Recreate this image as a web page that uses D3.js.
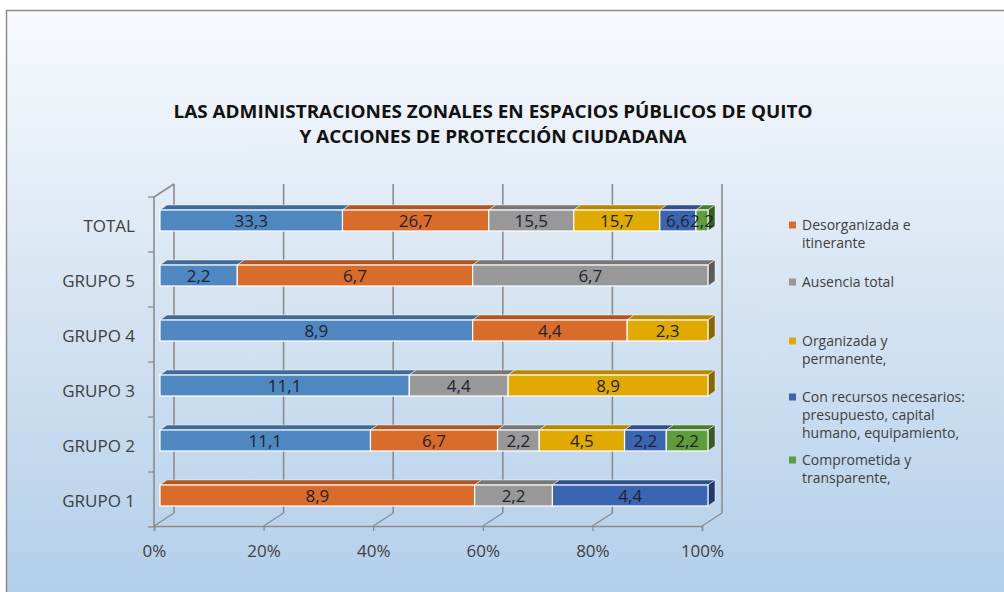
<!DOCTYPE html>
<html>
<head>
<meta charset="utf-8">
<script src="https://cdn.jsdelivr.net/npm/d3@7"></script>
<style>
  body { margin: 0; background: #fff; }
  text { font-family: "Open Sans", sans-serif; }
</style>
</head>
<body>
<div id="chart"></div>
<script>
// categories top to bottom
const categories = ["TOTAL", "GRUPO 5", "GRUPO 4", "GRUPO 3", "GRUPO 2", "GRUPO 1"];

// series values (same order as categories)
const serieA = [33.3, 2.2, 8.9, 11.1, 11.1, 0];          // light blue, no legend entry
const desorganizada = [26.7, 6.7, 4.4, 0, 6.7, 8.9];
const ausencia = [15.5, 6.7, 0, 4.4, 2.2, 2.2];
const organizada = [15.7, 0, 2.3, 8.9, 4.5, 0];
const conRecursos = [6.6, 0, 0, 0, 2.2, 4.4];
const comprometida = [2.2, 0, 0, 0, 2.2, 0];

const seriesKeys = ["a", "b", "c", "d", "e", "f"];
const seriesValues = [serieA, desorganizada, ausencia, organizada, conRecursos, comprometida];

const legendLabels = [
  ["Desorganizada e", "itinerante"],
  ["Ausencia total"],
  ["Organizada y", "permanente,"],
  ["Con recursos necesarios:", "presupuesto, capital", "humano, equipamiento,"],
  ["Comprometida y", "transparente,"]
];

const titleLines = [
  "LAS ADMINISTRACIONES ZONALES EN ESPACIOS PÚBLICOS DE QUITO",
  "Y ACCIONES DE PROTECCIÓN CIUDADANA"
];

const xTicks = [0, 0.2, 0.4, 0.6, 0.8, 1];

// front / top / side colours for each series
const frontColors = ["#4f87c1", "#d96c2b", "#989898", "#e1aa02", "#3c65b1", "#5f9c3c"];
const topColors = ["#3f6b98", "#ae5521", "#777777", "#b48800", "#2f4f8a", "#4a7a2e"];
const sideColors = ["#2f5075", "#84401a", "#5a5a5a", "#886600", "#233b68", "#375c22"];

const svgWidth = 1004;
const svgHeight = 592;

const svg = d3.select("#chart")
  .append("svg")
  .attr("width", svgWidth)
  .attr("height", svgHeight);

// background
const grad = svg.append("defs").append("linearGradient")
  .attr("id", "bg")
  .attr("x1", 0).attr("y1", 0).attr("x2", 0).attr("y2", 1);
grad.append("stop").attr("offset", "0%").attr("stop-color", "#f8fafd");
grad.append("stop").attr("offset", "45%").attr("stop-color", "#d9e6f3");
grad.append("stop").attr("offset", "100%").attr("stop-color", "#b3cfea");

svg.append("rect")
  .attr("x", 6).attr("y", 10)
  .attr("width", svgWidth - 6).attr("height", svgHeight - 10)
  .attr("fill", "url(#bg)");
svg.append("path")
  .attr("d", `M6.5,${svgHeight} V10.5 H${svgWidth}`)
  .attr("fill", "none")
  .attr("stroke", "#8a8a8a")
  .attr("stroke-width", 1.5);

// title
svg.selectAll(".title")
  .data(titleLines)
  .enter()
  .append("text")
  .attr("x", 493)
  .attr("y", (d, i) => 112 + i * 25)
  .attr("dy", "0.35em")
  .attr("text-anchor", "middle")
  .attr("textLength", (d, i) => i === 0 ? 639 : 387)
  .attr("lengthAdjust", "spacingAndGlyphs")
  .style("font-size", "18px")
  .style("font-weight", "bold")
  .style("fill", "#111")
  .text(d => d);

// scales
const depthX = 20, depthY = -13;     // front axis plane -> back wall
const xFront = d3.scaleLinear().domain([0, 1]).range([154, 702]);
const xBar = d3.scaleLinear().domain([0, 1]).range([160, 708]);
const yBand = d3.scaleBand().domain(categories).range([197, 527]);

const gridColor = "#8c8c8c";

// back wall gridlines
svg.selectAll(".grid")
  .data(xTicks)
  .enter()
  .append("line")
  .attr("x1", d => xFront(d) + depthX)
  .attr("x2", d => xFront(d) + depthX)
  .attr("y1", 197 + depthY)
  .attr("y2", 526 + depthY)
  .attr("stroke", gridColor)
  .attr("stroke-width", 1.6);

// floor diagonals
svg.selectAll(".floor")
  .data(xTicks)
  .enter()
  .append("line")
  .attr("x1", d => xFront(d))
  .attr("y1", 526)
  .attr("x2", d => xFront(d) + depthX)
  .attr("y2", 526 + depthY)
  .attr("stroke", gridColor)
  .attr("stroke-width", 1.3);

// left wall
svg.append("path")
  .attr("d", `M${xFront(0)},526 V197 L${xFront(0) + depthX},${197 + depthY}`)
  .attr("fill", "none")
  .attr("stroke", gridColor)
  .attr("stroke-width", 1.6);

// category ticks at band edges
const edges = categories.map(c => yBand(c)).concat([yBand.range()[1]]);
svg.selectAll(".ytick")
  .data(edges)
  .enter()
  .append("line")
  .attr("x1", xFront(0) - 6)
  .attr("x2", xFront(0))
  .attr("y1", d => d)
  .attr("y2", d => d)
  .attr("stroke", gridColor)
  .attr("stroke-width", 1.3);

// bottom axis
const bottomAxis = d3.axisBottom(xFront)
  .tickValues(xTicks)
  .tickFormat(d3.format(".0%"))
  .tickSize(5)
  .tickSizeOuter(5)
  .tickPadding(14);

const axisG = svg.append("g")
  .attr("transform", "translate(0,526)")
  .call(bottomAxis);
axisG.select(".domain").attr("stroke", gridColor).attr("stroke-width", 1.6);
axisG.selectAll(".tick line").attr("stroke", gridColor).attr("stroke-width", 1.3);
axisG.selectAll(".tick text")
  .style("font-size", "17px")
  .style("font-family", "'Open Sans', sans-serif")
  .attr("fill", "#404040");

// category labels
svg.selectAll(".cat")
  .data(categories)
  .enter()
  .append("text")
  .attr("x", 135)
  .attr("y", d => yBand(d) + yBand.bandwidth() / 2 + 2)
  .attr("dy", "0.35em")
  .attr("text-anchor", "end")
  .style("font-size", "17px")
  .style("fill", "#404040")
  .text(d => d);

// stacked data (100%)
const rows = categories.map((c, i) => {
  const row = { cat: c };
  seriesKeys.forEach((k, j) => { row[k] = seriesValues[j][i]; });
  return row;
});
const stacked = d3.stack().keys(seriesKeys).offset(d3.stackOffsetExpand)(rows);

const barH = 21, bdx = 7, bdy = -5;
const fmt = d3.formatLocale({ decimal: ",", thousands: ".", grouping: [3], currency: ["", ""] }).format(".1f");

stacked.forEach((layer, si) => {
  const segs = layer.filter(d => d[1] - d[0] > 0);
  const g = svg.append("g");
  segs.forEach(d => {
    const x0 = xBar(d[0]), x1 = xBar(d[1]);
    const y0 = yBand(d.data.cat) + yBand.bandwidth() / 2 - 4 - barH / 2;
    // top face
    g.append("path")
      .attr("d", `M${x0},${y0} L${x0 + bdx},${y0 + bdy} L${x1 + bdx},${y0 + bdy} L${x1},${y0} Z`)
      .attr("fill", topColors[si])
      .attr("stroke", "#ffffff")
      .attr("stroke-opacity", 0.6)
      .attr("stroke-width", 0.8);
    // side face
    g.append("path")
      .attr("d", `M${x1},${y0} L${x1 + bdx},${y0 + bdy} L${x1 + bdx},${y0 + bdy + barH} L${x1},${y0 + barH} Z`)
      .attr("fill", sideColors[si])
      .attr("stroke", "#ffffff")
      .attr("stroke-opacity", 0.6)
      .attr("stroke-width", 0.8);
    // front face
    g.append("rect")
      .attr("x", x0)
      .attr("y", y0)
      .attr("width", x1 - x0)
      .attr("height", barH)
      .attr("fill", frontColors[si])
      .attr("stroke", "#ffffff")
      .attr("stroke-width", 1.2);
  });
});

// value labels
stacked.forEach((layer, si) => {
  svg.selectAll(".val" + si)
    .data(layer.filter(d => d[1] - d[0] > 0))
    .enter()
    .append("text")
    .attr("x", d => (xBar(d[0]) + xBar(d[1])) / 2)
    .attr("y", d => yBand(d.data.cat) + yBand.bandwidth() / 2 - 4)
    .attr("dy", "0.36em")
    .attr("text-anchor", "middle")
    .style("font-size", "17px")
    .style("fill", "#1d2330")
    .text(d => fmt(d.data[seriesKeys[si]]));
});

// legend (series 2..6)
const legendY = [225, 282, 341, 397, 460];
const legend = svg.selectAll(".legend")
  .data(legendLabels)
  .enter()
  .append("g")
  .attr("transform", (d, i) => `translate(789, ${legendY[i]})`);

legend.append("rect")
  .attr("x", 0)
  .attr("y", -3.5)
  .attr("width", 7)
  .attr("height", 7)
  .attr("fill", (d, i) => frontColors[i + 1]);

legend.selectAll("text")
  .data(d => d)
  .enter()
  .append("text")
  .attr("x", 13)
  .attr("y", (d, i) => i * 18)
  .attr("dy", "0.35em")
  .style("font-size", "14px")
  .style("fill", "#404040")
  .text(d => d);
</script>
</body>
</html>
